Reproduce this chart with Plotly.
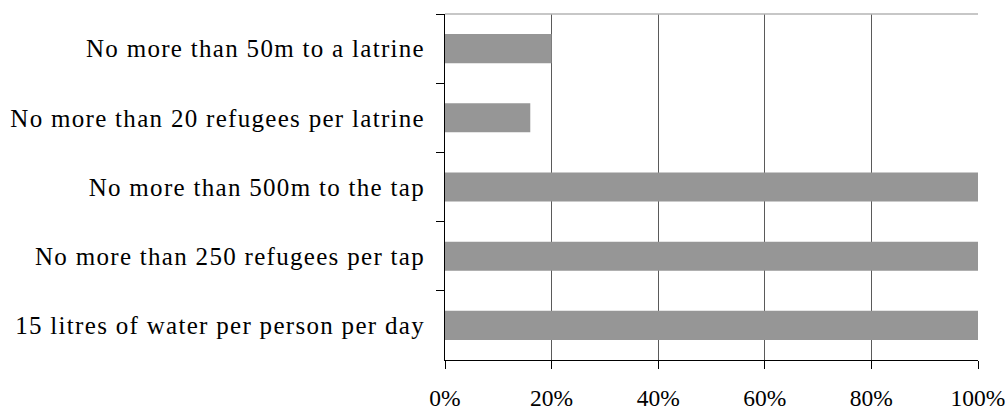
import plotly.graph_objects as go

# Share of the refugee camps meeting each standard (%), listed top to bottom
standards = [
    "No more than 50m to a latrine",
    "No more than 20 refugees per latrine",
    "No more than 500m to the tap",
    "No more than 250 refugees per tap",
    "15 litres of water per person per day",
]
share_met = [20, 16, 100, 100, 100]
x_ticks = [0, 20, 40, 60, 80, 100]
x_tick_text = ["0%", "20%", "40%", "60%", "80%", "100%"]

SERIF = "Liberation Serif"

fig = go.Figure(
    go.Bar(
        x=share_met,
        y=standards,
        orientation="h",
        marker=dict(color="#969696", line=dict(width=0)),
        hoverinfo="skip",
    )
)

fig.update_layout(
    width=1005,
    height=410,
    margin=dict(l=445, r=27, t=14, b=50),
    paper_bgcolor="white",
    plot_bgcolor="white",
    bargap=0.58,
    showlegend=False,
    font=dict(family=SERIF, size=25, color="black"),
    shapes=[
        # light frame line along the top of the plot area
        dict(type="line", xref="paper", yref="paper", x0=0, x1=1, y0=1, y1=1,
             line=dict(color="#b4b4b4", width=1.5)),
    ],
)

fig.update_xaxes(
    range=[0, 100],
    tickvals=x_ticks,
    ticktext=x_tick_text,
    showgrid=True,
    gridcolor="#5a5a5a",
    gridwidth=1.2,
    zeroline=False,
    showline=True,
    linecolor="black",
    linewidth=1,
    ticks="outside",
    ticklen=8,
    tickcolor="black",
    tickfont=dict(family=SERIF, size=23.5, color="black"),
    ticklabelstandoff=9,
    ticklabeloverflow="allow",
    automargin=False,
)

fig.update_yaxes(
    autorange="reversed",
    showgrid=False,
    zeroline=False,
    showline=True,
    linecolor="black",
    linewidth=1,
    ticks="outside",
    tickson="boundaries",
    ticklen=8,
    tickcolor="black",
    tickfont=dict(family=SERIF, size=25, color="black"),
    ticklabelstandoff=14,
    automargin=False,
)

# widen the category labels slightly with letter spacing
spacing_js = (
    "document.querySelectorAll('.ytick text').forEach(function(t){"
    "t.style.letterSpacing='1.3px';});"
)

fig.write_html("out.html", post_script=spacing_js)
